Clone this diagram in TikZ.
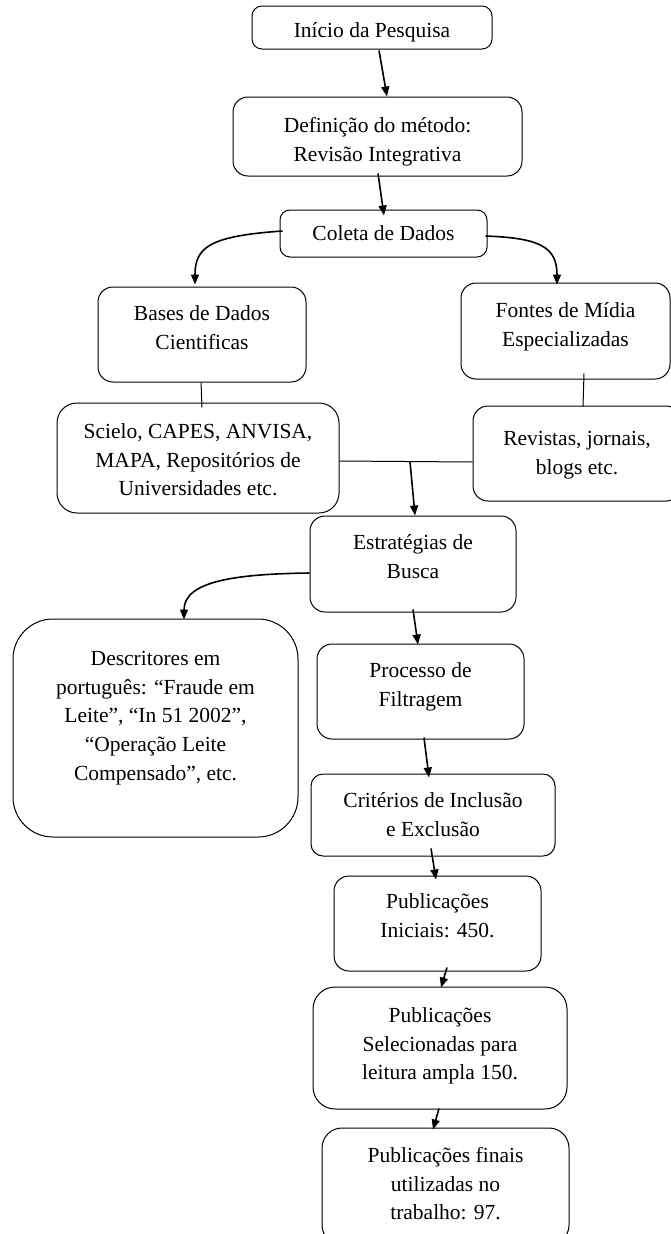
\documentclass[tikz,border=0pt]{standalone}
\usepackage{fontspec}
\setmainfont{Liberation Serif}
\usetikzlibrary{arrows.meta,calc}
\newcommand\mystrut{\rule{0pt}{21pt}}
\begin{document}
\begin{tikzpicture}[x=1pt,y=-1pt,
  box/.style={draw, line width=1pt, rounded corners=#1, inner sep=0pt},
  box/.default=13pt,
  txt/.style={anchor=north, inner sep=0pt, align=center, font=\fontsize{21.5}{28.8}\selectfont},
  arr/.style={line width=1.6pt, -{Triangle[length=10pt,width=8pt]}},
  ln/.style={line width=1pt}]
\useasboundingbox (0,0) rectangle (671,1234);
\clip (0,0) rectangle (671,1234);
% boxes
\node[box=10pt, minimum width=240pt, minimum height=43pt] (inicio) at (372,27.5) {};
\node[box=15pt, minimum width=289pt, minimum height=79pt] (def) at (377.5,136.5) {};
\node[box=10pt, minimum width=207pt, minimum height=47pt] (coleta) at (383.5,233.5) {};
\node[box=15pt, minimum width=208pt, minimum height=95pt] (bases) at (202,334.5) {};
\node[box=15pt, minimum width=209pt, minimum height=96pt] (fontes) at (565.5,331) {};
\node[box=20pt, minimum width=282pt, minimum height=110pt] (scielo) at (198,458) {};
\node[box=15pt, minimum width=208pt, minimum height=95pt] (revistas) at (577,453.5) {};
\node[box=15pt, minimum width=206pt, minimum height=96pt] (estr) at (413,564) {};
\node[box=40pt, minimum width=285pt, minimum height=218pt] (desc) at (155.5,728) {};
\node[box=15pt, minimum width=207pt, minimum height=95pt] (proc) at (420.5,691.5) {};
\node[box=12pt, minimum width=244pt, minimum height=82pt] (crit) at (433,815) {};
\node[box=15pt, minimum width=207pt, minimum height=95pt] (pubi) at (437.5,923.5) {};
\node[box=22pt, minimum width=254pt, minimum height=122pt] (pubs) at (440,1048) {};
\node[box=20pt, minimum width=247pt, minimum height=117pt] (pubf) at (445.5,1186.5) {};
% texts
\node[txt] (tinicio) at (372,16) {\mystrut Início da Pesquisa};
\node[txt] (tdef) at (377.5,111) {\mystrut Definição do método:\\Revisão Integrativa};
\node[txt] (tcoleta) at (383.5,219) {\mystrut Coleta de Dados};
\node[txt] (tbases) at (202,299) {\mystrut Bases de Dados\\Cientificas};
\node[txt] (tfontes) at (565.5,296) {\mystrut Fontes de Mídia\\Especializadas};
\node[txt] (tscielo) at (198,417) {\mystrut Scielo, CAPES, ANVISA,\\MAPA, Repositórios de\\Universidades etc.};
\node[txt] (trevistas) at (577,424) {\mystrut Revistas, jornais,\\blogs etc.};
\node[txt] (testr) at (413,528) {\mystrut Estratégias de\\Busca};
\node[txt] (tdesc) at (155.5,644) {\mystrut Descritores em\\português: “Fraude em\\Leite”, “In 51 2002”,\\“Operação Leite\\Compensado”, etc.};
\node[txt] (tproc) at (420.5,656) {\mystrut Processo de\\Filtragem};
\node[txt] (tcrit) at (433,786) {\mystrut Critérios de Inclusão\\e Exclusão};
\node[txt] (tpubi) at (437.5,887) {\mystrut Publicações\\Iniciais: 450.};
\node[txt] (tpubs) at (440,1001) {\mystrut Publicações\\Selecionadas para\\leitura ampla 150.};
\node[txt] (tpubf) at (445.5,1141) {\mystrut Publicações finais\\utilizadas no\\trabalho: 97.};
% connectors
\draw[arr] ($(inicio.south)+(7,1)$) -- ($(def.north)+(9.5,0)$);
\draw[arr] ($(def.south)+(0.5,-3)$) -- ($(coleta.north)+(0.5,6)$);
\draw[arr] ($(coleta.west)+(3,-2.5)$) .. controls (210,236) and (195,247) .. ($(bases.north)+(-7,-2)$);
\draw[arr] ($(coleta.east)+(-2,2.5)$) .. controls (540,238) and (557,247) .. ($(fontes.north)+(-8.5,2)$);
\draw[ln] ($(bases.south)+(-1,0)$) -- ($(scielo.north)+(4,5)$);
\draw[ln] ($(fontes.south)+(18.5,-6)$) -- ($(revistas.north)+(6,1)$);
\draw[ln] ($(scielo.east)+(0,3)$) -- ($(revistas.west)+(0,8.5)$);
\coordinate (j) at (410,461.5);
\draw[arr] (j) -- ($(estr.north)+(2,0)$);
\draw[arr] ($(estr.west)+(0,9)$) .. controls (240,574) and (184,580) .. ($(desc.north)+(28.5,1)$);
\draw[arr] ($(estr.south)+(0,-3)$) -- ($(proc.north)+(-2.5,1)$);
\draw[arr] ($(proc.south)+(3.5,-2)$) -- ($(crit.north)+(-4,4)$);
\draw[arr] ($(crit.south)+(-2,-8)$) -- ($(pubi.north)+(-1.5,4)$);
\draw[arr] ($(pubi.south)+(9.5,-4)$) -- ($(pubs.north)+(1,1)$);
\draw[arr] ($(pubs.south)+(-1,-1)$) -- ($(pubf.north)+(-12.5,2)$);
\end{tikzpicture}
\end{document}
